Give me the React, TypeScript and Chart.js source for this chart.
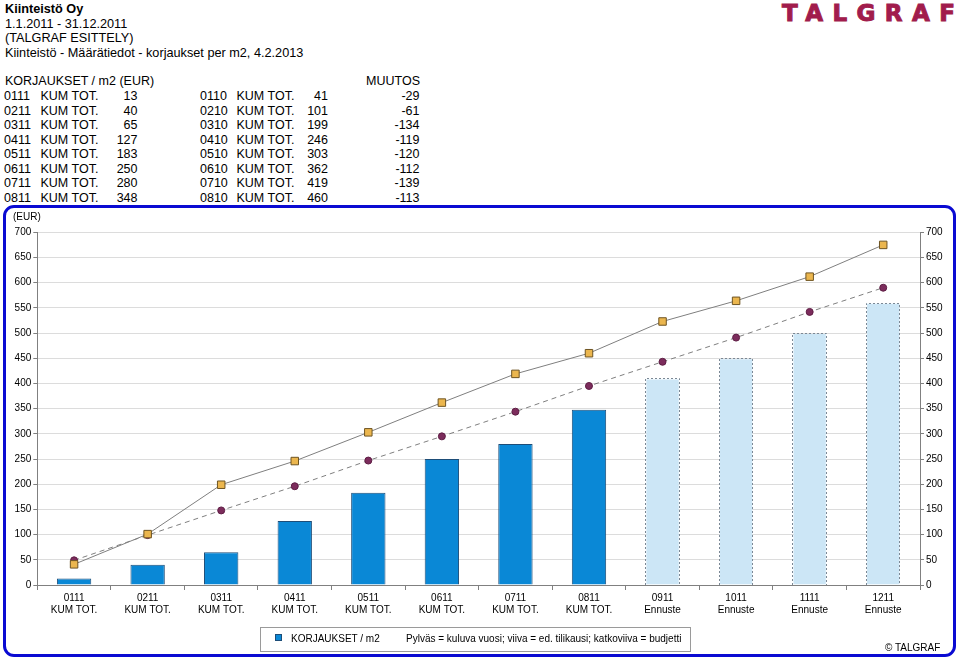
import React, { useEffect, useRef } from "react";
import { Chart, registerables } from "chart.js";

Chart.register(...registerables);

const FONT = "'Liberation Sans', Arial, Helvetica, sans-serif";

// ---- Data ----
const categories: string[][] = [
  ["0111", "KUM TOT."],
  ["0211", "KUM TOT."],
  ["0311", "KUM TOT."],
  ["0411", "KUM TOT."],
  ["0511", "KUM TOT."],
  ["0611", "KUM TOT."],
  ["0711", "KUM TOT."],
  ["0811", "KUM TOT."],
  ["0911", "Ennuste"],
  ["1011", "Ennuste"],
  ["1111", "Ennuste"],
  ["1211", "Ennuste"],
];
const actualValues = [13, 40, 65, 127, 183, 250, 280, 348];
const forecastValues = [410, 450, 500, 560];
const previousYear = [41, 101, 199, 246, 303, 362, 419, 460, 523, 564, 612, 675];
const budget = [49, 99, 148, 196, 247, 295, 344, 395, 443, 491, 542, 590];
const yMin = 0;
const yMax = 700;
const yStep = 50;

const tableCodes = ["0111", "0211", "0311", "0411", "0511", "0611", "0711", "0811"];
const prevCodes = ["0110", "0210", "0310", "0410", "0510", "0610", "0710", "0810"];
const prevValues = [41, 101, 199, 246, 303, 362, 419, 460];
const changes = [-29, -61, -134, -119, -120, -112, -139, -113];

const headerLines = [
  "Kiinteistö Oy",
  "1.1.2011 - 31.12.2011",
  "(TALGRAF ESITTELY)",
  "Kiinteistö - Määrätiedot - korjaukset per m2, 4.2.2013",
];

const forecastOutline = {
  id: "forecastOutline",
  afterDatasetDraw(chart: any, args: any) {
    if (args.index !== 0) return;
    const meta = chart.getDatasetMeta(0);
    const ctx = chart.ctx;
    ctx.save();
    ctx.strokeStyle = "#7b8895";
    ctx.lineWidth = 1;
    ctx.setLineDash([2, 2]);
    meta.data.forEach((el: any, i: number) => {
      if (i < actualValues.length) return;
      const p = el.getProps(["x", "y", "base", "width"], true);
      const l = Math.round(p.x - p.width / 2) + 0.5;
      const r = Math.round(p.x + p.width / 2) - 0.5;
      const t = Math.round(p.y) + 0.5;
      const b = Math.round(p.base);
      ctx.beginPath();
      ctx.moveTo(l, b);
      ctx.lineTo(l, t);
      ctx.lineTo(r, t);
      ctx.lineTo(r, b);
      ctx.stroke();
    });
    ctx.restore();
  },
};

function ChartCanvas() {
  const ref = useRef<HTMLCanvasElement | null>(null);
  useEffect(() => {
    if (!ref.current) return;
    const n = actualValues.length;
    const barData = [...actualValues, ...forecastValues];
    const tickFont = { family: FONT, size: 10 };
    const chart = new Chart(ref.current, {
      type: "bar",
      data: {
        labels: categories as any,
        datasets: [
          {
            type: "bar",
            label: "KORJAUKSET / m2",
            data: barData,
            backgroundColor: barData.map((_, i) => (i < n ? "#0a88d6" : "#cce6f6")),
            borderColor: barData.map((_, i) => (i < n ? "#1d4d78" : "rgba(0,0,0,0)")),
            borderWidth: 1,
            barPercentage: 0.467,
            categoryPercentage: 1,
            order: 3,
          } as any,
          {
            type: "line",
            label: "ed. tilikausi",
            data: previousYear,
            borderColor: "#7f7f7f",
            borderWidth: 1,
            pointStyle: "rect",
            pointRadius: 5.3,
            pointBackgroundColor: "#ebb64e",
            pointBorderColor: "#6e5422",
            pointBorderWidth: 1,
            tension: 0,
            order: 1,
          } as any,
          {
            type: "line",
            label: "budjetti",
            data: budget,
            borderColor: "#7f7f7f",
            borderWidth: 1,
            borderDash: [5, 4],
            pointStyle: "circle",
            pointRadius: 3.5,
            pointBackgroundColor: "#7c2c5c",
            pointBorderColor: "#5e1d44",
            pointBorderWidth: 1,
            tension: 0,
            order: 2,
          } as any,
        ],
      },
      options: {
        animation: false,
        responsive: false,
        devicePixelRatio: 1,
        layout: { padding: { top: 26.3, left: 0, right: 0, bottom: 0 } },
        plugins: {
          legend: { display: false },
          tooltip: { enabled: false },
        },
        scales: {
          x: {
            type: "category",
            offset: true,
            grid: {
              display: true,
              drawOnChartArea: false,
              drawTicks: true,
              tickLength: 5,
              color: "#808080",
              offset: true,
            },
            border: { color: "#808080" },
            ticks: {
              font: tickFont,
              color: "#000",
              maxRotation: 0,
              autoSkip: false,
              padding: 2,
            },
            afterFit: (s: any) => {
              s.height = 72;
            },
          },
          y: {
            position: "left",
            min: yMin,
            max: yMax,
            ticks: { stepSize: yStep, font: tickFont, color: "#000", padding: 2 },
            grid: { color: "#dcdcdc", tickColor: "#808080", tickLength: 4 },
            border: { color: "#808080" },
            afterFit: (s: any) => {
              s.width = 33.3;
            },
          },
          y2: {
            position: "right",
            min: yMin,
            max: yMax,
            ticks: { stepSize: yStep, font: tickFont, color: "#000", padding: 2 },
            grid: { drawOnChartArea: false, tickColor: "#808080", tickLength: 4 },
            border: { color: "#808080" },
            afterFit: (s: any) => {
              s.width = 36;
            },
          },
        },
      } as any,
      plugins: [forecastOutline],
    });
    return () => chart.destroy();
  }, []);
  return (
    <canvas
      ref={ref}
      width={952}
      height={451}
      style={{ position: "absolute", left: 4, top: 206, width: 952, height: 451 }}
    />
  );
}

export default function App() {
  const rowTop = 74.4;
  const rowH = 14.55;
  const txt: React.CSSProperties = {
    position: "absolute",
    fontFamily: FONT,
    fontSize: 12.5,
    lineHeight: `${rowH}px`,
    whiteSpace: "nowrap",
    color: "#000",
  };
  return (
    <div
      style={{
        position: "absolute",
        left: 0,
        top: 0,
        width: 959,
        height: 660,
        overflow: "hidden",
        background: "#fff",
        fontFamily: FONT,
      }}
    >
      {/* header */}
      <div
        style={{
          position: "absolute",
          left: 5,
          top: 2,
          fontSize: 12.7,
          lineHeight: "14.7px",
          whiteSpace: "nowrap",
        }}
      >
        {headerLines.map((l, i) => (
          <div key={i} style={{ fontWeight: i === 0 ? "bold" : "normal" }}>
            {l}
          </div>
        ))}
      </div>
      {/* logo */}
      <div
        style={{
          position: "absolute",
          left: 782,
          top: 0,
          fontFamily: "'DejaVu Sans', sans-serif",
          fontWeight: "bold",
          fontSize: 23,
          letterSpacing: "9.4px",
          color: "#a11c4c",
          lineHeight: "27px",
          WebkitTextStroke: "1px #a11c4c",
        }}
      >
        TALGRAF
      </div>
      {/* table */}
      <div style={{ ...txt, left: 5, top: rowTop }}>KORJAUKSET / m2 (EUR)</div>
      <div style={{ ...txt, left: 300, width: 120, textAlign: "right", top: rowTop }}>MUUTOS</div>
      {tableCodes.map((c, i) => {
        const top = rowTop + (i + 1) * rowH;
        return (
          <React.Fragment key={c}>
            <div style={{ ...txt, left: 4, top }}>{c}</div>
            <div style={{ ...txt, left: 40.5, top }}>KUM TOT.</div>
            <div style={{ ...txt, left: 100, width: 37.5, textAlign: "right", top }}>
              {actualValues[i]}
            </div>
            <div style={{ ...txt, left: 200, top }}>{prevCodes[i]}</div>
            <div style={{ ...txt, left: 236.5, top }}>KUM TOT.</div>
            <div style={{ ...txt, left: 290, width: 38, textAlign: "right", top }}>
              {prevValues[i]}
            </div>
            <div style={{ ...txt, left: 360, width: 59.5, textAlign: "right", top }}>
              {changes[i]}
            </div>
          </React.Fragment>
        );
      })}
      {/* chart frame */}
      <div
        style={{
          position: "absolute",
          left: 3,
          top: 205,
          width: 947,
          height: 446,
          border: "3px solid #0a0ad2",
          borderRadius: 11,
        }}
      />
      <ChartCanvas />
      <div
        style={{
          position: "absolute",
          left: 13,
          top: 211,
          fontSize: 10,
          lineHeight: "12px",
        }}
      >
        (EUR)
      </div>
      {/* legend */}
      <div
        style={{
          position: "absolute",
          left: 260,
          top: 627,
          width: 429,
          height: 23,
          border: "1px solid #9a9a9a",
          background: "#fff",
        }}
      >
        <div
          style={{
            position: "absolute",
            left: 14,
            top: 6,
            width: 5,
            height: 5,
            background: "#0a88d6",
            border: "1px solid #1d4d78",
          }}
        />
        <div
          style={{
            position: "absolute",
            left: 30,
            top: 5,
            fontSize: 10,
            lineHeight: "12px",
            whiteSpace: "nowrap",
          }}
        >
          KORJAUKSET / m2
        </div>
        <div
          style={{
            position: "absolute",
            left: 145,
            top: 5,
            fontSize: 10,
            lineHeight: "12px",
            whiteSpace: "nowrap",
          }}
        >
          Pylväs = kuluva vuosi; viiva = ed. tilikausi; katkoviiva = budjetti
        </div>
      </div>
      <div
        style={{
          position: "absolute",
          left: 885,
          top: 642,
          fontSize: 10,
          lineHeight: "12px",
          whiteSpace: "nowrap",
        }}
      >
        © TALGRAF
      </div>
    </div>
  );
}
